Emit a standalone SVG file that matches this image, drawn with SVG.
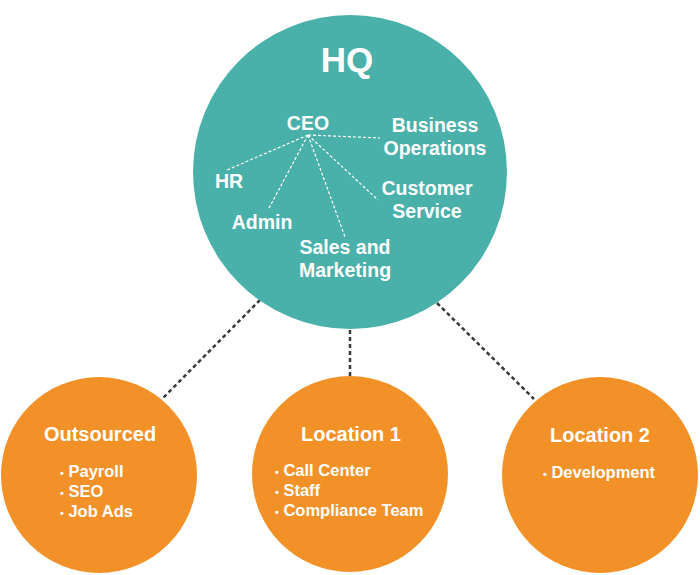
<svg xmlns="http://www.w3.org/2000/svg" width="700" height="575" viewBox="0 0 700 575">
<style>
text{font-family:"Liberation Sans",Arial,sans-serif;font-weight:bold;fill:#fff}
.hq{fill:#4AB0AA}
.loc{fill:#F29128}
.conn{stroke:#3a3a3a;stroke-width:2.5;stroke-dasharray:4 3;fill:none}
.org{stroke:#fff;stroke-width:1.2;stroke-dasharray:3 2;fill:none}
.t{font-size:19.5px}
.h{font-size:20px}
.b{font-size:16.5px}
.bu{font-size:11px}
</style>
<rect width="700" height="575" fill="#fff"/>
<g id="connectors">
<line class="conn" x1="260" y1="300" x2="162" y2="399"/>
<line class="conn" x1="350" y1="330" x2="350" y2="377"/>
<line class="conn" x1="437" y1="303" x2="534" y2="399"/>
</g>
<g id="hq">
<circle class="hq" cx="350" cy="172" r="157"/>
<text x="347" y="72" text-anchor="middle" style="font-size:35px">HQ</text>
<g id="org-lines">
<line class="org" x1="308" y1="135" x2="380" y2="138"/>
<line class="org" x1="308" y1="135" x2="227" y2="170"/>
<line class="org" x1="308" y1="135" x2="268" y2="210"/>
<line class="org" x1="308" y1="135" x2="345" y2="237"/>
<line class="org" x1="308" y1="135" x2="378" y2="200"/>
</g>
<text class="t" x="308" y="130" text-anchor="middle">CEO</text>
<text class="t" x="435" y="132" text-anchor="middle">Business</text>
<text class="t" x="435" y="155" text-anchor="middle">Operations</text>
<text class="t" x="229" y="188" text-anchor="middle">HR</text>
<text class="t" x="262" y="229" text-anchor="middle">Admin</text>
<text class="t" x="427" y="195" text-anchor="middle">Customer</text>
<text class="t" x="427" y="218" text-anchor="middle">Service</text>
<text class="t" x="345" y="254" text-anchor="middle">Sales and</text>
<text class="t" x="345" y="277" text-anchor="middle">Marketing</text>
</g>
<g id="outsourced">
<circle class="loc" cx="99" cy="475" r="98"/>
<text class="h" x="100" y="441" text-anchor="middle">Outsourced</text>
<text class="b" x="60" y="477"><tspan class="bu">•</tspan> Payroll</text>
<text class="b" x="60" y="497"><tspan class="bu">•</tspan> SEO</text>
<text class="b" x="60" y="517"><tspan class="bu">•</tspan> Job Ads</text>
</g>
<g id="location1">
<circle class="loc" cx="350" cy="474" r="98"/>
<text class="h" x="351" y="441" text-anchor="middle">Location 1</text>
<text class="b" x="275" y="476"><tspan class="bu">•</tspan> Call Center</text>
<text class="b" x="275" y="496"><tspan class="bu">•</tspan> Staff</text>
<text class="b" x="275" y="516"><tspan class="bu">•</tspan> Compliance Team</text>
</g>
<g id="location2">
<circle class="loc" cx="600" cy="475" r="98"/>
<text class="h" x="600" y="442" text-anchor="middle">Location 2</text>
<text class="b" x="543" y="478"><tspan class="bu">•</tspan> Development</text>
</g>
</svg>
